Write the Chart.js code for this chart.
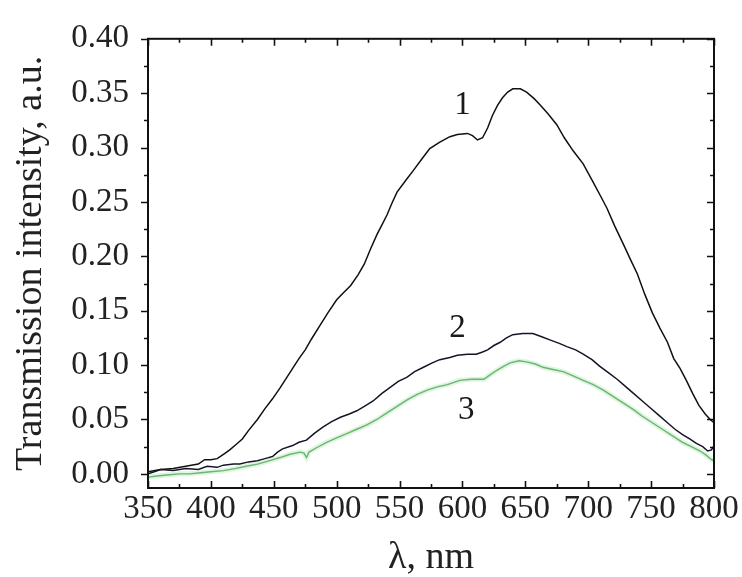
<!DOCTYPE html>
<html>
<head>
<meta charset="utf-8">
<script src="https://cdn.jsdelivr.net/npm/chart.js@4/dist/chart.umd.min.js"></script>
<style>
  html, body { margin: 0; padding: 0; background: #fff; }
  #wrap { width: 742px; height: 577px; }
</style>
</head>
<body>
<div id="wrap"><canvas id="chart" width="742" height="577"></canvas></div>
<script>
// ---- datos ----
const wl1 = [350,360,370,380,390,395,400,405,410,415,420,425,430,437,443,449,455,460,465,470,475,480,487,493,500,505,511,517,522,527,532,536,540,544,548,555,561,568,574,582,590,596,604,608,612,616,620,624,628,632,636,640,646,651,657,662,668,675,681,688,696,704,710,715,721,728,734,739,745,751,757,763,768,773,778,783,788,793,797,800];
const int1 = [0.002,0.004,0.005,0.007,0.009,0.013,0.013,0.014,0.018,0.022,0.027,0.032,0.040,0.050,0.060,0.069,0.079,0.088,0.097,0.106,0.114,0.124,0.137,0.148,0.160,0.166,0.173,0.183,0.193,0.207,0.220,0.229,0.238,0.249,0.259,0.270,0.279,0.290,0.299,0.305,0.310,0.312,0.313,0.311,0.307,0.309,0.318,0.330,0.339,0.346,0.351,0.354,0.354,0.351,0.345,0.339,0.331,0.321,0.309,0.297,0.285,0.268,0.255,0.244,0.228,0.211,0.196,0.184,0.165,0.148,0.134,0.121,0.106,0.097,0.086,0.074,0.063,0.055,0.050,0.047];

const wl2 = [350,355,360,370,380,390,397,405,410,418,423,430,437,443,449,453,457,465,470,476,482,489,496,503,510,516,522,529,536,542,549,556,562,569,576,582,590,596,604,611,616,620,625,630,635,640,648,656,663,670,677,683,690,696,703,709,716,723,730,736,743,749,756,763,769,775,781,786,791,795,798,800];
const int2 = [0.000,0.002,0.004,0.003,0.005,0.004,0.007,0.006,0.008,0.009,0.009,0.011,0.012,0.014,0.016,0.020,0.023,0.026,0.029,0.031,0.037,0.043,0.048,0.052,0.055,0.058,0.062,0.067,0.074,0.079,0.085,0.089,0.094,0.098,0.102,0.105,0.107,0.109,0.110,0.110,0.112,0.114,0.118,0.121,0.125,0.128,0.129,0.129,0.126,0.123,0.120,0.117,0.114,0.110,0.105,0.099,0.093,0.087,0.080,0.074,0.067,0.061,0.054,0.047,0.041,0.036,0.032,0.028,0.025,0.021,0.022,0.026];

const wl3 = [350,357,365,375,383,392,400,410,420,428,437,446,455,463,471,474,476,478,484,492,500,508,516,524,532,540,548,556,564,572,580,588,598,607,617,622,627,633,638,645,651,658,664,672,680,688,696,704,712,720,728,736,743,751,759,767,775,782,789,794,798,800];
const int3 = [-0.003,-0.002,-0.001,0.000,0.000,0.001,0.002,0.003,0.005,0.007,0.009,0.012,0.015,0.018,0.020,0.019,0.015,0.020,0.024,0.029,0.033,0.037,0.041,0.045,0.050,0.056,0.062,0.068,0.073,0.077,0.080,0.082,0.086,0.087,0.087,0.091,0.095,0.099,0.102,0.104,0.103,0.101,0.098,0.096,0.094,0.090,0.086,0.082,0.077,0.071,0.065,0.059,0.053,0.047,0.041,0.035,0.029,0.025,0.021,0.017,0.013,0.012];

const xTicks = [350,400,450,500,550,600,650,700,750,800];
const yTicks = [0.00,0.05,0.10,0.15,0.20,0.25,0.30,0.35,0.40];

// etiquetas de curva: texto, longitud de onda, intensidad
const curveLabels = ['1','2','3'];
const labelWl = [600,596,603];
const labelInt = [0.339,0.134,0.058];

const FONT = "'Liberation Serif', 'Times New Roman', serif";

const toPoints = (xs, ys) => xs.map((x, i) => ({ x, y: ys[i] }));

// marco con marcas mayores y menores
const framePlugin = {
  id: 'frame',
  afterDraw(chart) {
    const { ctx, chartArea: a, scales: { x, y } } = chart;
    ctx.save();
    ctx.strokeStyle = '#111';
    ctx.lineWidth = 2;
    ctx.strokeRect(a.left, a.top, a.right - a.left, a.bottom - a.top);
    ctx.lineWidth = 1.6;
    ctx.beginPath();
    for (let v = 350; v <= 800; v += 25) {
      const px = Math.round(x.getPixelForValue(v)) + 0.5;
      const len = v % 50 === 0 ? 7 : 4;
      ctx.moveTo(px, a.bottom); ctx.lineTo(px, a.bottom - len);
      ctx.moveTo(px, a.top); ctx.lineTo(px, a.top + len);
    }
    for (let k = 0; k <= 16; k++) {
      const v = k * 0.025;
      const py = Math.round(y.getPixelForValue(v)) + 0.5;
      const len = k % 2 === 0 ? 7 : 4;
      ctx.moveTo(a.left, py); ctx.lineTo(a.left - len, py);
      ctx.moveTo(a.right, py); ctx.lineTo(a.right - len, py);
    }
    ctx.stroke();

    ctx.fillStyle = '#1a1a1a';
    ctx.font = '33px ' + FONT;
    ctx.textAlign = 'center';
    ctx.textBaseline = 'middle';
    curveLabels.forEach((t, i) => {
      ctx.fillText(t, x.getPixelForValue(labelWl[i]), y.getPixelForValue(labelInt[i]));
    });
    ctx.restore();
  }
};

new Chart(document.getElementById('chart').getContext('2d'), {
  type: 'scatter',
  data: {
    datasets: [
      { data: toPoints(wl3, int3), showLine: true, borderColor: 'rgba(160,225,160,0.35)', borderWidth: 5, pointRadius: 0 },
      { data: toPoints(wl3, int3), showLine: true, borderColor: '#4f9c5e', borderWidth: 1.4, pointRadius: 0 },
      { data: toPoints(wl2, int2), showLine: true, borderColor: '#151528', borderWidth: 1.5, pointRadius: 0 },
      { data: toPoints(wl1, int1), showLine: true, borderColor: '#111', borderWidth: 1.5, pointRadius: 0 }
    ]
  },
  options: {
    responsive: false,
    animation: false,
    events: [],
    layout: { padding: { left: 0, right: 28, top: 24, bottom: 0 } },
    plugins: { legend: { display: false }, tooltip: { enabled: false } },
    elements: { line: { tension: 0 } },
    scales: {
      x: {
        type: 'linear',
        min: 350,
        max: 800,
        afterBuildTicks: s => { s.ticks = xTicks.map(v => ({ value: v })); },
        afterFit: s => { s.height = 89; },
        grid: { display: false, drawTicks: false },
        border: { display: false },
        ticks: { color: '#222', font: { family: FONT, size: 33 }, padding: 2, maxRotation: 0, callback: v => String(v) },
        title: { display: true, text: 'λ, nm', color: '#222', font: { family: FONT, size: 38, lineHeight: 1 }, padding: { top: 0, bottom: 0 } }
      },
      y: {
        min: -0.013,
        max: 0.40,
        afterBuildTicks: s => { s.ticks = yTicks.map(v => ({ value: v })); },
        afterFit: s => { s.width = 148; },
        grid: { display: false, drawTicks: false },
        border: { display: false },
        ticks: { color: '#222', font: { family: FONT, size: 33 }, padding: 19, callback: v => v.toFixed(2) },
        title: { display: true, text: 'Transmission intensity, a.u.', color: '#222', font: { family: FONT, size: 38, lineHeight: 1 }, padding: { top: 12, bottom: 0 } }
      }
    }
  },
  plugins: [framePlugin]
});
</script>
</body>
</html>
